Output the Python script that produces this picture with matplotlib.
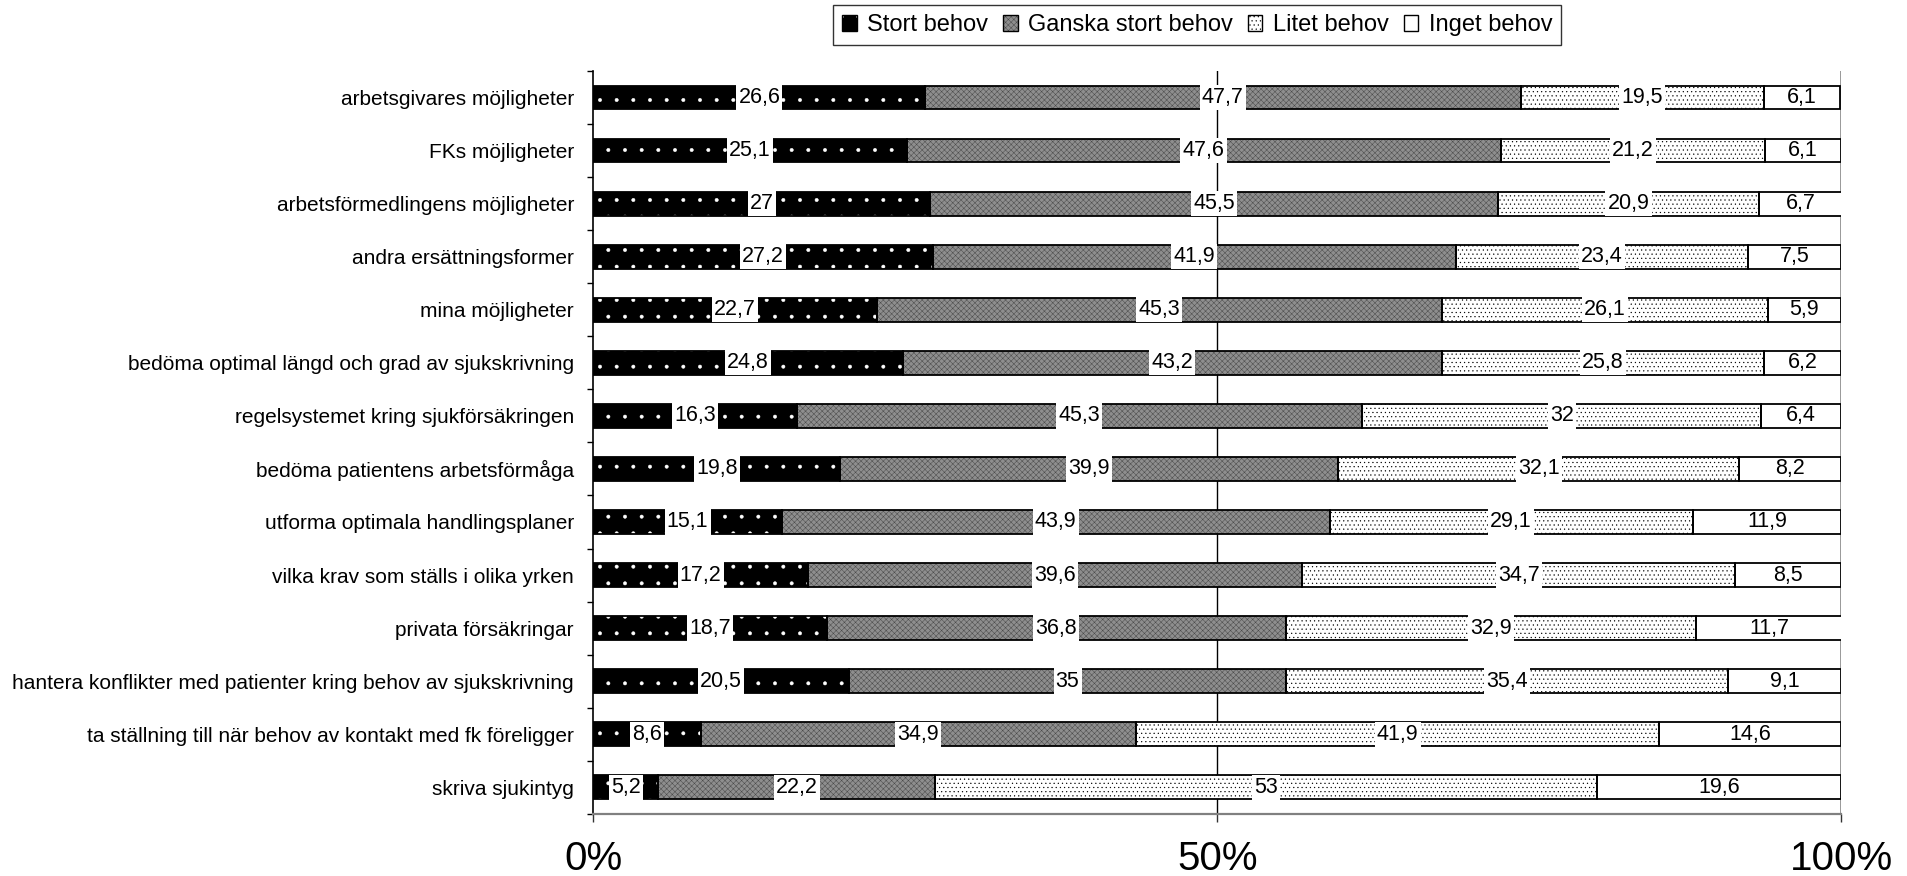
import matplotlib
matplotlib.use("Agg")
import matplotlib.pyplot as plt
from matplotlib.patches import Patch
from matplotlib.legend_handler import HandlerTuple
import numpy as np

plt.rcParams['font.family'] = ['Liberation Sans', 'DejaVu Sans']
plt.rcParams['hatch.linewidth'] = 0.35

categories = [
    "arbetsgivares möjligheter",
    "FKs möjligheter",
    "arbetsförmedlingens möjligheter",
    "andra ersättningsformer",
    "mina möjligheter",
    "bedöma optimal längd och grad av sjukskrivning",
    "regelsystemet kring sjukförsäkringen",
    "bedöma patientens arbetsförmåga",
    "utforma optimala handlingsplaner",
    "vilka krav som ställs i olika yrken",
    "privata försäkringar",
    "hantera konflikter med patienter kring behov av sjukskrivning",
    "ta ställning till när behov av kontakt med fk föreligger",
    "skriva sjukintyg",
]

series_names = ["Stort behov", "Ganska stort behov", "Litet behov", "Inget behov"]

stort = [26.6, 25.1, 27, 27.2, 22.7, 24.8, 16.3, 19.8, 15.1, 17.2, 18.7, 20.5, 8.6, 5.2]
ganska = [47.7, 47.6, 45.5, 41.9, 45.3, 43.2, 45.3, 39.9, 43.9, 39.6, 36.8, 35, 34.9, 22.2]
litet = [19.5, 21.2, 20.9, 23.4, 26.1, 25.8, 32, 32.1, 29.1, 34.7, 32.9, 35.4, 41.9, 53]
inget = [6.1, 6.1, 6.7, 7.5, 5.9, 6.2, 6.4, 8.2, 11.9, 8.5, 11.7, 9.1, 14.6, 19.6]

x_ticks = [0, 50, 100]
x_ticklabels = ["0%", "50%", "100%"]

# face colour, hatch colour, hatch pattern per series
styles = [
    ("black", "white", "."),
    ("#8e8e8e", "#4a4a4a", "xxxxxx"),
    ("white", "black", "...."),
    ("white", "black", None),
]

fig = plt.figure(figsize=(19.08, 8.76), dpi=100)
ax = fig.add_axes([0.311, 0.071, 0.654, 0.848])

values = [np.array(stort), np.array(ganska), np.array(litet), np.array(inget)]
y = np.arange(len(categories))
bar_h = 0.45
left = np.zeros(len(categories))
handles = []
for i, (vals, (face, hcol, hatch)) in enumerate(zip(values, styles)):
    ax.barh(y, vals, left=left, height=bar_h, color=face, edgecolor=hcol,
            hatch=hatch, linewidth=0, zorder=2)
    ax.barh(y, vals, left=left, height=bar_h, fill=False, edgecolor="black",
            linewidth=1.3, zorder=3)
    for yi, l, v in zip(y, left, vals):
        txt = f"{v:g}".replace(".", ",")
        kw = {}
        if i < 3:
            kw["bbox"] = dict(boxstyle="square,pad=0.1", facecolor="white",
                              edgecolor="none")
        ax.text(l + v / 2, yi, txt, ha="center", va="center", fontsize=15.5,
                zorder=5, **kw)
    handles.append((Patch(facecolor=face, edgecolor=hcol, hatch=hatch, linewidth=0),
                    Patch(fill=False, edgecolor="black", linewidth=1.0)))
    left = left + vals

ax.set_xlim(0, 100)
ax.set_ylim(len(categories) - 0.5, -0.5)

ax.set_yticks(y)
ax.set_yticklabels(categories, fontsize=15)
ax.set_yticks(np.arange(len(categories) + 1) - 0.5, minor=True)
ax.tick_params(axis="y", which="major", length=0, pad=14)
ax.tick_params(axis="y", which="minor", length=4, width=1, direction="out")

ax.set_xticks(x_ticks)
ax.set_xticklabels(x_ticklabels, fontsize=29)
ax.tick_params(axis="x", length=6, width=1, direction="out", pad=13,
               color="#333333")

ax.axvline(50, color="black", linewidth=1, zorder=1)
ax.axvline(100, color="#888888", linewidth=1.2, zorder=1)

for side in ("top", "right"):
    ax.spines[side].set_visible(False)
ax.spines["left"].set_color("black")
ax.spines["left"].set_linewidth(1.2)
ax.spines["bottom"].set_color("#808080")
ax.spines["bottom"].set_linewidth(1.6)

leg = fig.legend(handles, series_names, loc="center",
                 bbox_to_anchor=(0.6275, 0.971), ncol=4, fontsize=17,
                 frameon=True, fancybox=False, edgecolor="black",
                 handler_map={tuple: HandlerTuple(ndivide=1, pad=0)},
                 handlelength=0.62, handleheight=0.62, handletextpad=0.45,
                 columnspacing=0.62, borderpad=0.38, borderaxespad=0)
leg.get_frame().set_linewidth(1.0)

fig.savefig("out.png", dpi=100)
